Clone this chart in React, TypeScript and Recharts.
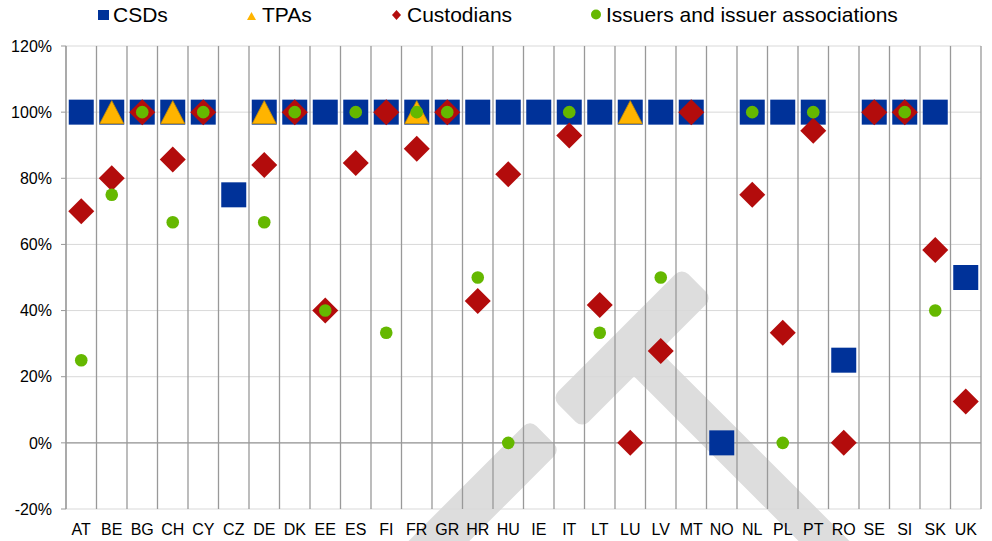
import React from "react";
import {
  CartesianGrid,
  ReferenceLine,
  Scatter,
  ScatterChart,
  XAxis,
  YAxis,
} from "recharts";

const CATEGORIES = [
  "AT", "BE", "BG", "CH", "CY", "CZ", "DE", "DK", "EE", "ES",
  "FI", "FR", "GR", "HR", "HU", "IE", "IT", "LT", "LU", "LV",
  "MT", "NO", "NL", "PL", "PT", "RO", "SE", "SI", "SK", "UK",
];

const CSDS: (number | null)[] = [
  1, 1, 1, 1, 1, 0.75, 1, 1, 1, 1,
  1, 1, 1, 1, 1, 1, 1, 1, 1, 1,
  1, 0, 1, 1, 1, 0.25, 1, 1, 1, 0.5,
];

const TPAS: (number | null)[] = [
  null, 1, null, 1, null, null, 1, null, null, null,
  null, 1, null, null, null, null, null, null, 1, null,
  null, null, null, null, null, null, null, null, null, null,
];

const CUSTODIANS: (number | null)[] = [
  0.7, 0.8, 1, 0.857, 1, null, 0.84, 1, 0.4, 0.846,
  1, 0.889, 1, 0.429, 0.8125, null, 0.929, 0.417, 0, 0.278,
  1, null, 0.75, 0.333, 0.944, 0, 1, 1, 0.583, 0.125,
];

const ISSUERS: (number | null)[] = [
  0.25, 0.75, 1, 0.667, 1, null, 0.667, 1, 0.4, 1,
  0.333, 1, 1, 0.5, 0, null, 1, 0.333, null, 0.5,
  null, null, 1, 0, 1, null, null, 1, 0.4, null,
];

const Y_TICKS = [-0.2, 0, 0.2, 0.4, 0.6, 0.8, 1, 1.2];

const BLUE = "#003299";
const ORANGE = "#FFB400";
const RED = "#B30C0C";
const GREEN = "#65B800";
const FONT = "'Liberation Sans', Arial, sans-serif";

function toPoints(values: (number | null)[]) {
  return values
    .map((v, i) => ({ x: i + 0.5, y: v, name: CATEGORIES[i] }))
    .filter((p) => p.y !== null);
}

const Square = ({ cx, cy }: any) => (
  <rect x={cx - 12.5} y={cy - 12.5} width={25} height={25} fill={BLUE} />
);

const Triangle = ({ cx, cy }: any) => (
  <polygon
    points={`${cx},${cy - 11.5} ${cx + 12},${cy + 11.5} ${cx - 12},${cy + 11.5}`}
    fill={ORANGE}
    stroke="#C98E00"
    strokeWidth={0.8}
  />
);

const Diamond = ({ cx, cy }: any) => (
  <polygon
    points={`${cx},${cy - 13} ${cx + 13},${cy} ${cx},${cy + 13} ${cx - 13},${cy}`}
    fill={RED}
  />
);

const Dot = ({ cx, cy }: any) => <circle cx={cx} cy={cy} r={6.3} fill={GREEN} />;

const LEGEND = [
  { label: "CSDs", left: 98, marker: "square" },
  { label: "TPAs", left: 247, marker: "triangle" },
  { label: "Custodians", left: 392, marker: "diamond" },
  { label: "Issuers and issuer associations", left: 591, marker: "circle" },
];

function LegendMarker({ kind }: { kind: string }) {
  return (
    <svg width={11} height={12} style={{ marginRight: 4 }}>
      {kind === "square" && <rect x={0} y={1} width={11} height={10} fill={BLUE} />}
      {kind === "triangle" && <polygon points="4.5,3 9,11 0,11" fill={ORANGE} />}
      {kind === "diamond" && <polygon points="4.5,1 9,6 4.5,11 0,6" fill={RED} />}
      {kind === "circle" && <circle cx={5} cy={5.5} r={5} fill={GREEN} />}
    </svg>
  );
}

function Watermark() {
  const c = "#DDDDDD";
  return (
    <svg
      width={992}
      height={541}
      style={{ position: "absolute", left: 0, top: 0 }}
    >
      <g transform="translate(632,348) rotate(-45)">
        <rect x={-92} y={-21.5} width={184} height={43} rx={9} fill={c} />
      </g>
      <g transform="translate(474.5,505.5) rotate(-45)">
        <rect x={-100} y={-21.5} width={200} height={43} rx={9} fill={c} />
      </g>
      <g transform="translate(636.5,353.5) rotate(45)">
        <rect x={0} y={-18} width={380} height={36} rx={9} fill={c} />
      </g>
    </svg>
  );
}

export default function App() {
  return (
    <div
      style={{
        position: "absolute",
        left: 0,
        top: 0,
        width: 992,
        height: 541,
        background: "#fff",
        fontFamily: FONT,
        overflow: "hidden",
      }}
    >
      <Watermark />
      {LEGEND.map((item) => (
        <div
          key={item.label}
          style={{
            position: "absolute",
            left: item.left,
            top: 2,
            height: 26,
            display: "flex",
            alignItems: "center",
            fontSize: 21,
            color: "#000",
            whiteSpace: "nowrap",
          }}
        >
          <LegendMarker kind={item.marker} />
          <span>{item.label}</span>
        </div>
      ))}
      <div style={{ position: "absolute", left: 0, top: 0 }}>
        <ScatterChart
          width={992}
          height={541}
          margin={{ top: 46, right: 11, bottom: 0, left: 0 }}
        >
          <CartesianGrid horizontal vertical={false} stroke="#D9D9D9" />
          <XAxis
            type="number"
            dataKey="x"
            domain={[0, 30]}
            ticks={CATEGORIES.map((_, i) => i + 0.5)}
            interval={0}
            tickFormatter={(v: number) => CATEGORIES[Math.floor(v)]}
            axisLine={false}
            tickLine={false}
            tickMargin={9}
            height={32}
            tick={{ fontSize: 16, fill: "#000", fontFamily: FONT }}
          />
          <YAxis
            type="number"
            dataKey="y"
            domain={[-0.2, 1.2]}
            ticks={Y_TICKS}
            interval={0}
            width={66}
            tickFormatter={(v: number) => `${Math.round(v * 100)}%`}
            axisLine={{ stroke: "#999" }}
            tickLine={{ stroke: "#999" }}
            tickSize={5}
            tickMargin={9}
            tick={{ fontSize: 16, fill: "#000", fontFamily: FONT }}
          />
          {Array.from({ length: CATEGORIES.length + 1 }, (_, i) => (
            <ReferenceLine key={`v${i}`} x={i} stroke="#999" strokeWidth={1.3} />
          ))}
          <ReferenceLine y={0} stroke="#999" strokeWidth={1.3} />
          <Scatter name="CSDs" data={toPoints(CSDS)} shape={Square} isAnimationActive={false} />
          <Scatter name="TPAs" data={toPoints(TPAS)} shape={Triangle} isAnimationActive={false} />
          <Scatter name="Custodians" data={toPoints(CUSTODIANS)} shape={Diamond} isAnimationActive={false} />
          <Scatter
            name="Issuers and issuer associations"
            data={toPoints(ISSUERS)}
            shape={Dot}
            isAnimationActive={false}
          />
        </ScatterChart>
      </div>
    </div>
  );
}
